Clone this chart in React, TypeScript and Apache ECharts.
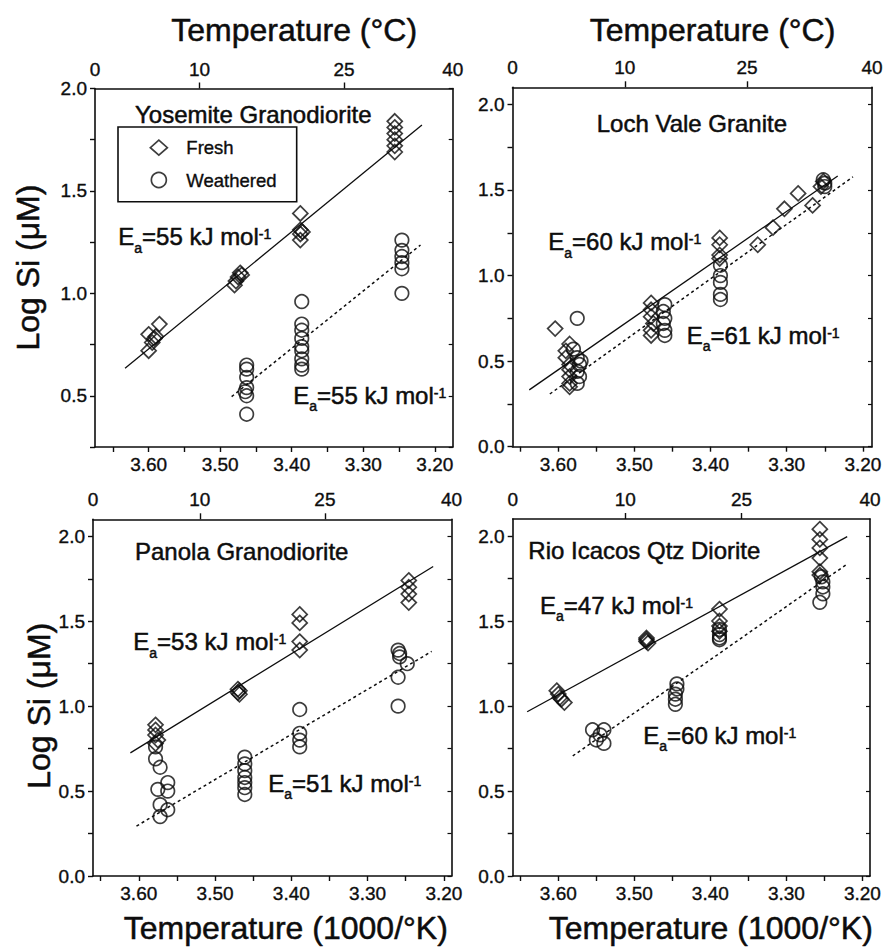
import React, { useEffect, useRef } from 'react';
import * as echarts from 'echarts';

const FONT = '"Liberation Sans", Arial, Helvetica, sans-serif';
const INK = '#0d0d0d';
const THICK = 0.5;

// ---------- data (x = 1000/K, y = log Si µM) ----------
const yosemiteFresh = [[3.600,0.72],[3.595,0.76],[3.590,0.79],[3.600,0.80],[3.585,0.85],[3.592,0.78],[3.480,1.04],[3.478,1.06],[3.475,1.08],[3.472,1.10],[3.470,1.09],[3.388,1.39],[3.388,1.31],[3.388,1.29],[3.388,1.26],[3.385,1.30],[3.256,1.84],[3.256,1.81],[3.256,1.78],[3.256,1.75],[3.256,1.72],[3.256,1.69]];
const yosemiteWeathered = [[3.463,0.65],[3.463,0.63],[3.463,0.59],[3.463,0.54],[3.463,0.50],[3.465,0.52],[3.463,0.41],[3.386,0.96],[3.386,0.85],[3.386,0.82],[3.386,0.78],[3.386,0.74],[3.386,0.72],[3.386,0.68],[3.386,0.65],[3.386,0.63],[3.246,1.26],[3.246,1.21],[3.246,1.18],[3.246,1.15],[3.246,1.12],[3.246,1.00]];
const yosemiteFreshFit = [[3.633,0.634],[3.218,1.822]];
const yosemiteWeatheredFit = [[3.484,0.496],[3.220,1.236]];

const lochFresh = [[3.604,0.69],[3.585,0.60],[3.590,0.56],[3.590,0.52],[3.585,0.48],[3.585,0.45],[3.585,0.41],[3.585,0.37],[3.585,0.35],[3.478,0.84],[3.478,0.80],[3.478,0.76],[3.475,0.72],[3.478,0.68],[3.478,0.65],[3.388,1.22],[3.388,1.18],[3.388,1.12],[3.388,1.10],[3.338,1.18],[3.318,1.28],[3.303,1.39],[3.285,1.48],[3.266,1.41],[3.255,1.52],[3.252,1.55]];
const lochWeathered = [[3.575,0.75],[3.580,0.57],[3.575,0.52],[3.570,0.50],[3.572,0.48],[3.575,0.44],[3.572,0.41],[3.575,0.37],[3.460,0.83],[3.462,0.79],[3.460,0.75],[3.462,0.72],[3.460,0.68],[3.460,0.65],[3.387,1.06],[3.387,1.00],[3.387,0.96],[3.387,0.89],[3.387,0.86],[3.252,1.56],[3.250,1.54],[3.250,1.52]];
const lochFreshFit = [[3.638,0.332],[3.233,1.582]];
const lochWeatheredFit = [[3.611,0.308],[3.213,1.577]];

const panolaFresh = [[3.578,0.89],[3.578,0.86],[3.578,0.83],[3.575,0.80],[3.578,0.78],[3.470,1.10],[3.468,1.09],[3.468,1.07],[3.470,1.08],[3.389,1.54],[3.389,1.49],[3.389,1.38],[3.389,1.33],[3.246,1.74],[3.246,1.70],[3.246,1.66],[3.246,1.61]];
const panolaWeathered = [[3.578,0.76],[3.578,0.69],[3.572,0.64],[3.562,0.55],[3.575,0.51],[3.562,0.50],[3.572,0.42],[3.562,0.39],[3.572,0.35],[3.461,0.70],[3.461,0.66],[3.461,0.62],[3.461,0.58],[3.461,0.55],[3.461,0.52],[3.461,0.48],[3.389,0.98],[3.389,0.84],[3.389,0.80],[3.389,0.76],[3.260,1.33],[3.258,1.31],[3.258,1.29],[3.248,1.25],[3.260,1.17],[3.260,1.00]];
const panolaFreshFit = [[3.611,0.725],[3.214,1.822]];
const panolaWeatheredFit = [[3.603,0.294],[3.216,1.322]];

const rioFresh = [[3.602,1.09],[3.600,1.07],[3.598,1.05],[3.596,1.04],[3.592,1.02],[3.484,1.40],[3.484,1.39],[3.482,1.37],[3.484,1.38],[3.388,1.57],[3.388,1.50],[3.388,1.47],[3.388,1.44],[3.256,2.04],[3.256,1.98],[3.256,1.93],[3.256,1.87],[3.256,1.79],[3.256,1.77]];
const rioWeathered = [[3.555,0.86],[3.540,0.86],[3.550,0.80],[3.540,0.78],[3.545,0.83],[3.444,1.13],[3.444,1.10],[3.446,1.07],[3.446,1.04],[3.446,1.01],[3.388,1.45],[3.388,1.42],[3.388,1.40],[3.388,1.39],[3.254,1.76],[3.252,1.73],[3.252,1.70],[3.252,1.66],[3.256,1.61]];
const rioFreshFit = [[3.641,0.966],[3.220,1.996]];
const rioWeatheredFit = [[3.581,0.706],[3.222,1.829]];

const panelNames = ['Yosemite Granodiorite', 'Loch Vale Granite', 'Panola Granodiorite', 'Rio Icacos Qtz Diorite'];
const eaFresh = [55, 60, 53, 47];
const eaWeathered = [55, 61, 51, 60];

// tick labels
const xTickValues = [3.20, 3.25, 3.30, 3.35, 3.40, 3.45, 3.50, 3.55, 3.60, 3.65];
const xLabelValues = [3.20, 3.30, 3.40, 3.50, 3.60];
const yTickValues = [0, 0.25, 0.5, 0.75, 1.0, 1.25, 1.5, 1.75, 2.0];
const yLabelValues = [0, 0.5, 1.0, 1.5, 2.0];
const celsiusLabels = ['0', '10', '25', '40'];
// where the °C ticks sit on each panel's 1000/K scale (as drawn in the figure)
const celsiusAtYosemite = [3.675, 3.529, 3.327, 3.175];
const celsiusAtLoch = [3.66, 3.5125, 3.352, 3.188];
const celsiusAtPanola = [3.66, 3.520, 3.356, 3.19];
const celsiusAtRio = [3.66, 3.512, 3.359, 3.19];

// ---------- layout ----------
const panels = [
  { fresh: yosemiteFresh, weathered: yosemiteWeathered, freshFit: yosemiteFreshFit, weatheredFit: yosemiteWeatheredFit,
    xMin: 3.175, xMax: 3.675, yMin: 0.25, yMax: 2.0, celsiusAt: celsiusAtYosemite,
    grid: { left: 95, top: 88.5, width: 357.7, height: 358.5 },
    title: [135, 114.2], eaF: [118.3, 236.7], eaW: [293.3, 395] },
  { fresh: lochFresh, weathered: lochWeathered, freshFit: lochFreshFit, weatheredFit: lochWeatheredFit,
    xMin: 3.188, xMax: 3.66, yMin: 0, yMax: 2.1, celsiusAt: celsiusAtLoch,
    grid: { left: 512.5, top: 87.3, width: 359.5, height: 359.4 },
    title: [596.7, 123.3], eaF: [548.3, 241.7], eaW: [686.7, 335] },
  { fresh: panolaFresh, weathered: panolaWeathered, freshFit: panolaFreshFit, weatheredFit: panolaWeatheredFit,
    xMin: 3.19, xMax: 3.66, yMin: 0, yMax: 2.1, celsiusAt: celsiusAtPanola,
    grid: { left: 93, top: 519.3, width: 358.5, height: 356.7 },
    title: [135, 551.7], eaF: [133.3, 641.7], eaW: [268.3, 783.3] },
  { fresh: rioFresh, weathered: rioWeathered, freshFit: rioFreshFit, weatheredFit: rioWeatheredFit,
    xMin: 3.19, xMax: 3.66, yMin: 0, yMax: 2.1, celsiusAt: celsiusAtRio,
    grid: { left: 512.7, top: 519, width: 357.3, height: 357 },
    title: [528.3, 550], eaF: [540, 605], eaW: [643.3, 735] },
];

const axisLine = { show: true, onZero: false, lineStyle: { color: INK, width: 1.6 } };
const labelStyle = { fontSize: 19, fontFamily: FONT, color: INK, textBorderColor: INK, textBorderWidth: 0.35 };

function eaText(x: number, y: number, value: number) {
  return {
    type: 'text', x, y, silent: true,
    style: {
      text: `{m|E}{s|a}{m|=${value} kJ mol}{p|-1}`,
      fontSize: 24, fontFamily: FONT, fill: INK, stroke: INK, lineWidth: THICK,
      align: 'left', textAlign: 'left', verticalAlign: 'middle', textVerticalAlign: 'middle',
      rich: {
        m: { fontSize: 24, fontFamily: FONT, fill: INK },
        s: { fontSize: 14, fontFamily: FONT, fill: INK, padding: [22, 0, 0, 0] },
        p: { fontSize: 14, fontFamily: FONT, fill: INK, padding: [0, 0, 5, 0] },
      },
    },
  };
}

function plainText(x: number, y: number, text: string, size: number, align: string, rotation = 0) {
  return {
    type: 'text', x, y, rotation, silent: true,
    style: {
      text, fontSize: size, fontFamily: FONT, fill: INK, stroke: INK, lineWidth: THICK,
      align, textAlign: align, verticalAlign: 'middle', textVerticalAlign: 'middle',
    },
  };
}

function buildOption() {
  const grid: any[] = [];
  const xAxis: any[] = [];
  const yAxis: any[] = [];
  const series: any[] = [];
  const graphic: any[] = [];

  panels.forEach((p, i) => {
    grid.push({ ...p.grid, containLabel: false, outerBoundsMode: 'none' });
    const celsiusAt = p.celsiusAt;
    xAxis.push({
      type: 'value', gridIndex: i, position: 'bottom', min: p.xMin, max: p.xMax, inverse: true,
      axisLine, splitLine: { show: false },
      axisTick: { show: true, inside: false, length: 5, lineStyle: { color: INK, width: 1.4 }, customValues: xTickValues },
      axisLabel: { show: true, margin: 8, ...labelStyle, customValues: xLabelValues, formatter: (v: number) => v.toFixed(2) },
    });
    xAxis.push({
      type: 'value', gridIndex: i, position: 'top', min: p.xMin, max: p.xMax, inverse: true,
      axisLine, splitLine: { show: false },
      axisTick: { show: true, inside: false, length: 6, lineStyle: { color: INK, width: 1.4 }, customValues: celsiusAt.slice(1, 3) },
      axisLabel: {
        show: true, margin: 10, ...labelStyle, customValues: celsiusAt,
        formatter: (v: number) => {
          let best = 0;
          celsiusAt.forEach((c, k) => { if (Math.abs(c - v) < Math.abs(celsiusAt[best] - v)) best = k; });
          return celsiusLabels[best];
        },
      },
    });
    const yt = yTickValues.filter((v) => v >= p.yMin - 1e-9 && v <= p.yMax + 1e-9);
    const yl = yLabelValues.filter((v) => v >= p.yMin - 1e-9 && v <= p.yMax + 1e-9);
    yAxis.push({
      type: 'value', gridIndex: i, position: 'left', min: p.yMin, max: p.yMax,
      axisLine, splitLine: { show: false },
      axisTick: { show: true, inside: false, length: 5, lineStyle: { color: INK, width: 1.4 }, customValues: yt },
      axisLabel: { show: true, margin: 8, ...labelStyle, customValues: yl, formatter: (v: number) => v.toFixed(1) },
    });
    yAxis.push({
      type: 'value', gridIndex: i, position: 'right', min: p.yMin, max: p.yMax,
      axisLine, splitLine: { show: false },
      axisTick: { show: true, inside: true, length: 4, lineStyle: { color: INK, width: 1.2 }, customValues: yt },
      axisLabel: { show: false },
    });

    const xi = 2 * i;
    const yi = 2 * i;
    series.push({
      type: 'scatter', name: 'Fresh', xAxisIndex: xi, yAxisIndex: yi, data: p.fresh,
      symbol: 'diamond', symbolSize: 15, silent: true, z: 3,
      itemStyle: { color: 'rgba(255,255,255,0)', borderColor: INK, borderWidth: 1.7 },
    });
    series.push({
      type: 'scatter', name: 'Weathered', xAxisIndex: xi, yAxisIndex: yi, data: p.weathered,
      symbol: 'circle', symbolSize: 13.5, silent: true, z: 3,
      itemStyle: { color: 'rgba(255,255,255,0)', borderColor: INK, borderWidth: 1.7 },
    });
    series.push({
      type: 'line', name: 'Fresh fit', xAxisIndex: xi, yAxisIndex: yi, data: p.freshFit,
      symbol: 'none', silent: true, z: 2, lineStyle: { color: INK, width: 1.3, type: 'solid' },
    });
    series.push({
      type: 'line', name: 'Weathered fit', xAxisIndex: xi, yAxisIndex: yi, data: p.weatheredFit,
      symbol: 'none', silent: true, z: 2, lineStyle: { color: INK, width: 1.5, type: [3, 3] },
    });

    graphic.push(plainText(p.title[0], p.title[1], panelNames[i], 24, 'left'));
    graphic.push(eaText(p.eaF[0], p.eaF[1], eaFresh[i]));
    graphic.push(eaText(p.eaW[0], p.eaW[1], eaWeathered[i]));
  });

  graphic.push(plainText(294.2, 30, 'Temperature (°C)', 32, 'center'));
  graphic.push(plainText(712.5, 30, 'Temperature (°C)', 32, 'center'));
  graphic.push(plainText(285.8, 927.5, 'Temperature (1000/°K)', 32, 'center'));
  graphic.push(plainText(710.8, 927.5, 'Temperature (1000/°K)', 32, 'center'));
  graphic.push(plainText(28, 267.6, 'Log Si (μM)', 32, 'center', Math.PI / 2));
  graphic.push(plainText(39, 705.8, 'Log Si (μM)', 32, 'center', Math.PI / 2));

  return {
    animation: false,
    backgroundColor: '#ffffff',
    grid, xAxis, yAxis, series, graphic,
    legend: {
      show: true, data: ['Fresh', 'Weathered'], orient: 'vertical', left: 118, top: 127,
      itemWidth: 17, itemHeight: 15, itemGap: 13, padding: [11, 20, 12, 31.5],
      borderColor: INK, borderWidth: 1.6, selectedMode: false,
      itemStyle: { borderWidth: 1.7 },
      formatter: '{s| }{name}',
      textStyle: { fontSize: 18.5, fontFamily: FONT, color: INK, textBorderColor: INK, textBorderWidth: 0.35, rich: { s: { width: 14 } } },
    },
  };
}

export default function App() {
  const ref = useRef<HTMLDivElement>(null);
  useEffect(() => {
    if (!ref.current) return;
    const chart = echarts.init(ref.current, undefined, { renderer: 'svg' });
    chart.setOption(buildOption() as any);
    return () => chart.dispose();
  }, []);
  return (
    <div
      ref={ref}
      style={{ position: 'absolute', left: 0, top: 0, width: 883, height: 948, background: '#fff' }}
    />
  );
}
